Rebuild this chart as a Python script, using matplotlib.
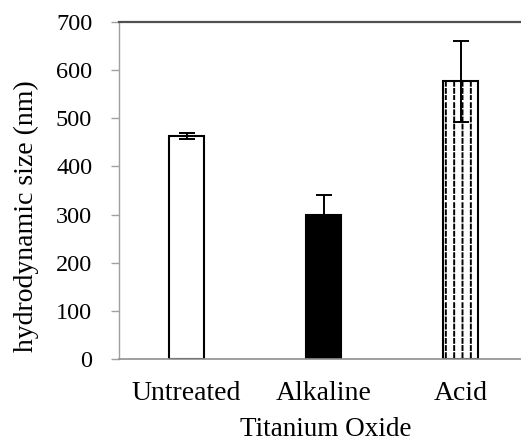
import numpy as np
import matplotlib
matplotlib.use("Agg")
import matplotlib.pyplot as plt
import matplotlib.hatch as mhatch
from matplotlib.path import Path

categories = ["Untreated", "Alkaline", "Acid"]
sizes = [463, 299, 577]
errors = [6, 41, 84]
y_ticks = [0, 100, 200, 300, 400, 500, 600, 700]


class DashedVerticalHatch(mhatch.HatchPatternBase):
    # stands in for the plain '|' hatch: vertical lines broken into dashes
    n_dash = 14
    dash_frac = 0.55

    def __init__(self, hatch, density):
        self.num_lines = int((hatch.count('|') + hatch.count('+')) * density)
        self.num_vertices = self.num_lines * self.n_dash * 2

    def set_vertices_and_codes(self, vertices, codes):
        xs, xstep = np.linspace(0.0, 1.0, self.num_lines, False, retstep=True)
        xs += xstep / 2.
        ys, ystep = np.linspace(0.0, 1.0, self.n_dash, False, retstep=True)
        i = 0
        for x in xs:
            for y in ys:
                vertices[i] = (x, y)
                vertices[i + 1] = (x, y + ystep * self.dash_frac)
                codes[i] = Path.MOVETO
                codes[i + 1] = Path.LINETO
                i += 2


mhatch._hatch_types = [DashedVerticalHatch if h is mhatch.VerticalHatch else h
                       for h in mhatch._hatch_types]

plt.rcParams['font.family'] = ['Liberation Serif', 'DejaVu Serif']
plt.rcParams['hatch.linewidth'] = 1.4

fig = plt.figure(figsize=(5.21, 4.42), dpi=100)
ax = fig.add_axes([0.2284, 0.1878, 0.7716, 0.7624])

x = np.arange(len(categories))
faces = ["white", "black", "white"]
hatches = [None, None, "||"]
bars = ax.bar(x, sizes, width=0.255, color=faces, edgecolor="black",
              linewidth=1.5, hatch=hatches, zorder=2)
ax.errorbar(x, sizes, yerr=errors, fmt="none", ecolor="black",
            elinewidth=1.4, capsize=5.5, capthick=1.4, zorder=3)

ax.set_xlim(-0.493, 2.44)
ax.set_ylim(0, 700)
ax.set_yticks(y_ticks)
ax.set_xticks(x)
ax.set_xticklabels(categories)

ax.spines["right"].set_visible(False)
ax.spines["left"].set_color("#a0a0a0")
ax.spines["bottom"].set_color("#909090")
ax.spines["left"].set_linewidth(1.0)
ax.spines["bottom"].set_linewidth(1.2)
ax.spines["top"].set_color("#505050")
ax.spines["top"].set_linewidth(1.6)

ax.tick_params(axis="y", direction="out", length=5.8, width=1.0,
               color="#a0a0a0", labelsize=17.5, pad=13.5)
ax.tick_params(axis="x", length=0, labelsize=20, pad=16)

ax.set_ylabel("hydrodynamic size (nm)", fontsize=20)
ax.yaxis.set_label_coords(-0.2, 0.424)
ax.set_xlabel("Titanium Oxide", fontsize=19.5)
ax.xaxis.set_label_coords(0.515, -0.172)

fig.savefig("out.png", dpi=100)
